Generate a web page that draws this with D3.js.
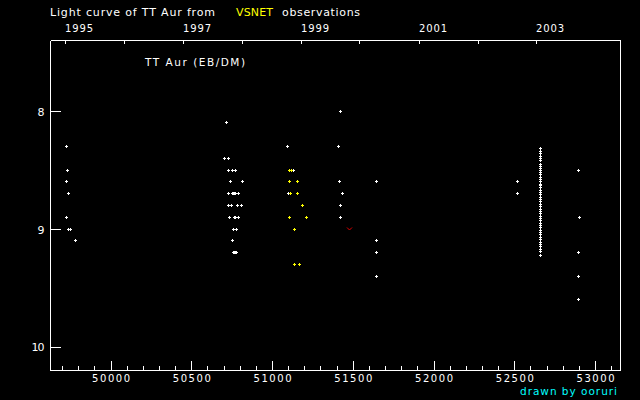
<!DOCTYPE html>
<html>
<head>
<meta charset="utf-8">
<script src="https://cdn.jsdelivr.net/npm/d3@7/dist/d3.min.js"></script>
<style>
  html, body { margin: 0; padding: 0; background: #000; }
  svg { display: block; }
  text { font-family: "DejaVu Sans", sans-serif; }
</style>
</head>
<body>
<svg id="chart" width="640" height="400"></svg>
<script>
// ---- Data (JD - 2400000, visual magnitude) ----
const whiteJD = [
  49727, 49734, 49727, 49740, 49727, 49740, 49752, 49783,
  50719, 50706, 50731, 50731, 50756, 50773, 50743, 50818,
  50731, 50756, 50762, 50766, 50773, 50793,
  50731, 50748, 50787, 50812,
  50737, 50768, 50772, 50775, 50793,
  50762, 50777, 50758, 50760, 50768, 50771, 50777,
  51097, 51130, 51103,
  51425, 51413, 51419, 51437, 51425, 51425,
  51648, 51648, 51648, 51648,
  52522, 52522,
  52900, 52906, 52900, 52900, 52900
];
const whiteMag = [
  8.3, 8.5, 8.6, 8.7, 8.9, 9.0, 9.0, 9.1,
  8.1, 8.4, 8.4, 8.5, 8.5, 8.5, 8.6, 8.6,
  8.7, 8.7, 8.7, 8.7, 8.7, 8.7,
  8.8, 8.8, 8.8, 8.8,
  8.9, 8.9, 8.9, 8.9, 8.9,
  9.0, 9.0, 9.1, 9.2, 9.2, 9.2, 9.2,
  8.3, 8.5, 8.7,
  8.0, 8.3, 8.6, 8.7, 8.8, 8.9,
  8.6, 9.1, 9.2, 9.4,
  8.6, 8.7,
  8.5, 8.9, 9.2, 9.4, 9.6
];
// dense time series on one night
const seriesJD = 52664;
const seriesMag = [
  8.32, 8.34, 8.36, 8.38, 8.40, 8.42, 8.45, 8.47, 8.49, 8.50,
  8.52, 8.54, 8.56, 8.58, 8.60, 8.62, 8.63, 8.65, 8.67, 8.69,
  8.71, 8.73, 8.75, 8.77, 8.79, 8.81, 8.83, 8.85, 8.87, 8.89,
  8.91, 8.93, 8.95, 8.97, 8.99, 9.01, 9.03, 9.05, 9.07, 9.09,
  9.11, 9.13, 9.15, 9.17, 9.19, 9.22
];
const yellowJD = [51109, 51118, 51109, 51159, 51115, 51159, 51190, 51109, 51214, 51140, 51140, 51171];
const yellowMag = [8.5, 8.5, 8.6, 8.6, 8.7, 8.7, 8.8, 8.9, 8.9, 9.0, 9.3, 9.3];
const fainterJD = [51481];
const fainterMag = [9.0];

const majorTicks = [50000, 50500, 51000, 51500, 52000, 52500, 53000];
const minorTicks = [49700, 49800, 49900, 50100, 50200, 50300, 50400, 50600, 50700, 50800, 50900,
  51100, 51200, 51300, 51400, 51600, 51700, 51800, 51900, 52100, 52200, 52300, 52400,
  52600, 52700, 52800, 52900, 53100];
const magTicks = [8, 9, 10];
const yearLabels = ["1995", "1996", "1997", "1998", "1999", "2000", "2001", "2002", "2003"];
const yearJD = [49718.5, 50083.5, 50449.5, 50814.5, 51179.5, 51544.5, 51910.5, 52275.5, 52640.5];

// ---- Layout ----
const svg = d3.select("#chart");
const L = 50, R = 621, T = 40, B = 370;
const x = d3.scaleLinear().domain([49628, 53164]).range([L, R]);
const y = d3.scaleLinear().domain([7.4, 10.2]).range([T, B]);

svg.append("rect").attr("width", 640).attr("height", 400).attr("fill", "#000");

// frame lines (top and right)
const frame = svg.append("g").attr("stroke", "#fff").attr("shape-rendering", "crispEdges");
frame.append("line").attr("x1", L + 0.5).attr("x2", R - 0.5).attr("y1", T + 0.5).attr("y2", T + 0.5);
frame.append("line").attr("x1", R - 0.5).attr("x2", R - 0.5).attr("y1", T).attr("y2", B + 0.5);

// top year ticks and labels
yearJD.forEach((jd, i) => {
  const px = Math.round(x(jd)) + 0.5;
  frame.append("line").attr("x1", px).attr("x2", px).attr("y1", T).attr("y2", T + 4);
  if (i % 2 === 0) {
    svg.append("text").attr("x", px - 0.5).attr("y", 32)
      .attr("fill", "#fff").attr("font-size", 10)
      .attr("textLength", 28).attr("lengthAdjust", "spacing")
      .text(yearLabels[i]);
  }
});

// bottom axis
const xAxisMajor = d3.axisBottom(x).tickValues(majorTicks).tickSize(-10).tickSizeOuter(0)
  .tickPadding(14).tickFormat(d3.format("d"));
const gx = svg.append("g").attr("transform", `translate(0.5,${B + 0.5})`).call(xAxisMajor);
const xAxisMinor = d3.axisBottom(x).tickValues(minorTicks).tickSize(-5).tickSizeOuter(0).tickFormat("");
const gx2 = svg.append("g").attr("transform", `translate(0.5,${B + 0.5})`).call(xAxisMinor);
gx2.select(".domain").remove();
[gx, gx2].forEach(g => {
  g.selectAll("line, path").attr("stroke", "#fff").attr("shape-rendering", "crispEdges");
});
gx.select(".domain").attr("d", `M${L},0H${R - 0.5}`);
gx.selectAll("text").attr("fill", "#fff").attr("font-size", 10)
  .attr("font-family", "DejaVu Sans, sans-serif")
  .attr("y", 11.5).attr("dy", 0)
  .attr("textLength", 38).attr("lengthAdjust", "spacing");

// left axis
const yAxis = d3.axisLeft(y).tickValues(magTicks).tickSize(-10).tickSizeOuter(0).tickPadding(6)
  .tickFormat(d3.format("d"));
const gy = svg.append("g").attr("transform", `translate(${L + 0.5},0.5)`).call(yAxis);
gy.selectAll("line, path").attr("stroke", "#fff").attr("shape-rendering", "crispEdges");
gy.select(".domain").attr("d", `M0,${T}V${B}`);
gy.selectAll("text").attr("fill", "#fff").attr("font-size", 11)
  .attr("font-family", "DejaVu Sans, sans-serif")
  .attr("dy", "0.36em")
  .each(function(d) { d3.select(this).attr("textLength", String(d).length === 1 ? 6 : 13).attr("lengthAdjust", "spacing"); });

// ---- Markers ----
function crossPath(px, py) {
  const cx = Math.round(px), cy = Math.round(py);
  return `M${cx - 1},${cy + 0.5}H${cx + 2}M${cx + 0.5},${cy - 1}V${cy + 2}`;
}
const marks = svg.append("g").attr("shape-rendering", "crispEdges").attr("fill", "none");

marks.selectAll("path.w").data(d3.range(whiteJD.length)).join("path")
  .attr("class", "w").attr("stroke", "#fff").attr("stroke-width", 1)
  .attr("d", i => crossPath(x(whiteJD[i]), y(whiteMag[i])));

marks.selectAll("path.s").data(seriesMag).join("path")
  .attr("class", "s").attr("stroke", "#fff").attr("stroke-width", 1)
  .attr("d", m => crossPath(x(seriesJD), y(m)));

marks.selectAll("path.yv").data(d3.range(yellowJD.length)).join("path")
  .attr("class", "yv").attr("stroke", "#ffff00").attr("stroke-width", 1)
  .attr("d", i => crossPath(x(yellowJD[i]), y(yellowMag[i])));

svg.append("g").selectAll("path").data(d3.range(fainterJD.length)).join("path")
  .attr("fill", "none").attr("stroke", "#e00000").attr("stroke-width", 1)
  .attr("d", i => {
    const cx = Math.round(x(fainterJD[i])) + 0.5, cy = Math.round(y(fainterMag[i]));
    return `M${cx - 2.5},${cy - 1.5}L${cx},${cy + 1}L${cx + 2.5},${cy - 1.5}`;
  });

// ---- Texts ----
svg.append("text").attr("x", 50).attr("y", 16).attr("fill", "#fff").attr("font-size", 11)
  .attr("textLength", 165).attr("lengthAdjust", "spacing").text("Light curve of TT Aur from");
svg.append("text").attr("x", 236).attr("y", 16).attr("fill", "#ffff00").attr("font-size", 11)
  .attr("textLength", 37).attr("lengthAdjust", "spacing").text("VSNET");
svg.append("text").attr("x", 282).attr("y", 16).attr("fill", "#fff").attr("font-size", 11)
  .attr("textLength", 78).attr("lengthAdjust", "spacing").text("observations");
svg.append("text").attr("x", 145).attr("y", 66).attr("fill", "#fff").attr("font-size", 10.5)
  .attr("textLength", 100).attr("lengthAdjust", "spacing").text("TT Aur (EB/DM)");
svg.append("text").attr("x", 520).attr("y", 395).attr("fill", "#00ffff").attr("font-size", 10.5)
  .attr("textLength", 97).attr("lengthAdjust", "spacing").text("drawn by ooruri");
</script>
</body>
</html>
